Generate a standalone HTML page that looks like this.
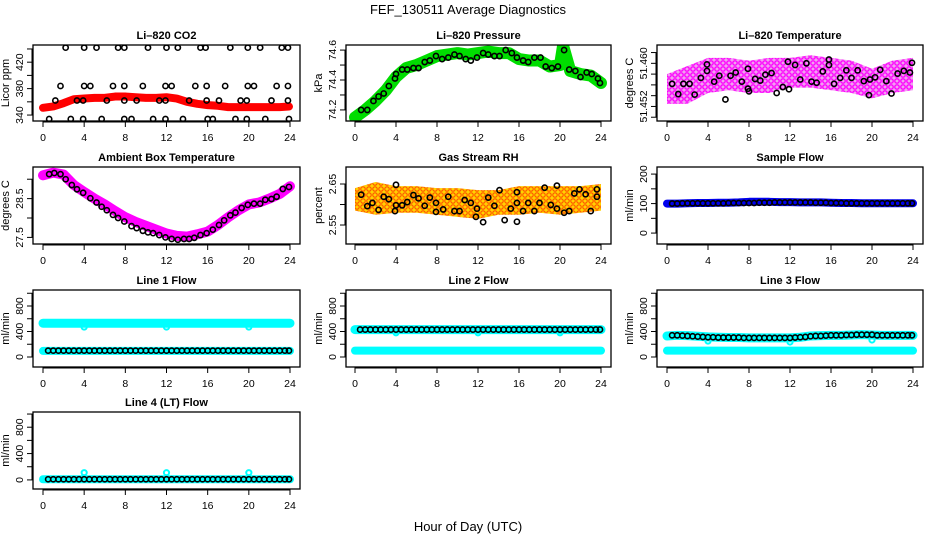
<!DOCTYPE html>
<html><head><meta charset="utf-8"><style>
body{margin:0;background:#fff}
svg{display:block;font-family:"Liberation Sans",sans-serif}
</style></head><body>
<svg id="c" width="936" height="540" viewBox="0 0 936 540" xmlns="http://www.w3.org/2000/svg">
<defs>
<pattern id="pm" width="6" height="6" patternUnits="userSpaceOnUse"><rect width="6" height="6" fill="#f0a0f0"/><circle cx="3" cy="3" r="2.2" fill="none" stroke="#ff00ff" stroke-width="1.4"/></pattern>
<pattern id="po" width="6" height="6" patternUnits="userSpaceOnUse"><rect width="6" height="6" fill="#ffd200"/><circle cx="3" cy="3" r="2.2" fill="none" stroke="#ff5000" stroke-width="1.1"/></pattern>
</defs>
<text x="468" y="14" text-anchor="middle" font-size="13">FEF_130511  Average Diagnostics</text>
<text x="468" y="531" text-anchor="middle" font-size="13">Hour of Day (UTC)</text>
</svg>
<script>
// ---- data ----
const T48=[0.5,1,1.5,2,2.5,3,3.5,4,4.5,5,5.5,6,6.5,7,7.5,8,8.5,9,9.5,10,10.5,11,11.5,12,12.5,13,13.5,14,14.5,15,15.5,16,16.5,17,17.5,18,18.5,19,19.5,20,20.5,21,21.5,22,22.5,23,23.5,23.9];
const H25=[0,1,2,3,4,5,6,7,8,9,10,11,12,13,14,15,16,17,18,19,20,21,22,23,24];
const H13=[0,2,4,6,8,10,12,14,16,18,20,22,24];
const xTicks=[0,4,8,12,16,20,24];

const co2T=[2.2,4.0,5.2,7.3,7.9,10.2,12.0,13.1,15.3,15.8,18.2,19.9,21.1,23.2,23.8, 1.7,4.0,4.6,6.8,7.9,9.7,11.9,12.5,14.8,15.9,17.7,19.9,20.5,22.7,23.8, 1.2,3.3,3.9,6.2,7.9,9.1,11.3,11.9,14.2,15.9,17.1,19.2,19.8,22.2,23.8, 0.6,2.7,3.9,5.7,7.9,8.6,10.7,11.9,13.6,16.0,16.5,18.7,19.8,21.6,23.9];
const co2V=[442,442,442,442,442,442,442,442,442,442,442,442,442,442,442, 384,384,384,384,384,384,384,384,384,384,384,384,384,384,384, 362,362,362,362,362,362,362,362,362,362,362,362,362,362,362, 334,334,334,334,334,334,334,334,334,334,334,334,334,334,334];
const co2Red=[351,353,358,364,365,366,366,368,368,367,366,366,367,365,360,357,355,354,352,352,352,352,352,352,353];

const presT=[0,1,2,3,4,5,6,7,8,9,10,11,12,13,14,15,16,17,18,19,20,20.3,21,22,23,24];
const presGreen=[74.15,74.2,74.26,74.33,74.42,74.48,74.5,74.53,74.56,74.57,74.58,74.57,74.58,74.59,74.58,74.58,74.54,74.53,74.53,74.49,74.5,74.63,74.46,74.44,74.43,74.38];
const presBlackT=[0.6,1.2,1.8,2.3,2.8,3.3,3.9,4.0,4.6,5.1,5.7,6.2,6.8,7.3,7.9,8.5,9.1,9.7,10.2,10.8,11.3,11.9,12.5,13.0,13.6,14.1,14.7,15.3,15.8,16.4,16.9,17.5,18.1,18.6,19.2,19.8,20.4,20.9,21.5,22.0,22.6,23.1,23.7,23.9];
const presBlackV=[74.2,74.2,74.26,74.29,74.31,74.36,74.41,74.44,74.47,74.47,74.48,74.48,74.52,74.53,74.56,74.54,74.55,74.57,74.56,74.54,74.53,74.55,74.58,74.57,74.56,74.56,74.6,74.58,74.55,74.53,74.52,74.55,74.55,74.49,74.48,74.49,74.6,74.47,74.46,74.42,74.45,74.44,74.41,74.38];

const ltLo=[51.4525,51.4525,51.4545,51.455,51.4545,51.4545,51.4555,51.4555,51.455,51.4545,51.4535,51.4545,51.455];
const ltHi=[51.458,51.4595,51.461,51.461,51.4605,51.461,51.461,51.4615,51.461,51.4605,51.459,51.4605,51.461];
const ltBlackT=[0.5,1.1,1.6,2.2,2.7,3.3,3.9,3.9,4.6,5.1,5.7,6.2,6.7,7.3,7.9,7.9,8.0,8.6,9.1,9.6,10.2,10.7,11.3,11.8,11.9,12.5,13.0,13.6,14.1,14.6,15.2,15.8,15.8,16.3,16.9,17.5,18.0,18.6,19.2,19.7,19.8,20.3,20.8,21.4,21.9,22.5,23.1,23.7,23.9];
const ltBlackV=[51.4562,51.4543,51.4562,51.4562,51.4542,51.4573,51.4598,51.4586,51.4566,51.4577,51.4533,51.4577,51.4583,51.4566,51.4590,51.4553,51.4548,51.4571,51.4568,51.4579,51.4582,51.4545,51.4556,51.4603,51.4552,51.4597,51.4570,51.4600,51.4566,51.4564,51.4585,51.4607,51.4597,51.4562,51.4573,51.4587,51.4573,51.4587,51.4567,51.4541,51.4570,51.4574,51.4588,51.4567,51.4544,51.4581,51.4586,51.4583,51.4601];
const ltLabels=['51.452','51.460'];

const ambT=[0.6,1.1,1.7,2.2,2.8,3.3,3.9,4.6,5.2,5.7,6.2,6.8,7.3,7.9,8.6,9.1,9.7,10.2,10.7,11.3,11.9,12.5,13.1,13.7,14.2,14.7,15.3,15.9,16.5,17.1,17.6,18.2,18.7,19.3,19.9,20.5,21.1,21.6,22.2,22.7,23.3,23.9];
const ambV=[29.13,29.16,29.13,29.0,28.85,28.74,28.65,28.51,28.4,28.29,28.2,28.08,28.0,27.91,27.79,27.74,27.67,27.63,27.61,27.56,27.5,27.46,27.44,27.46,27.46,27.49,27.56,27.61,27.7,27.82,27.94,28.07,28.14,28.26,28.34,28.37,28.37,28.47,28.49,28.55,28.75,28.8];
const ambMag=[29.1,29.17,29.12,28.85,28.67,28.5,28.35,28.18,28.02,27.9,27.8,27.7,27.6,27.54,27.52,27.58,27.65,27.82,28.02,28.2,28.35,28.4,28.5,28.62,28.82];

const rhLo=[2.585,2.575,2.58,2.58,2.575,2.57,2.565,2.575,2.575,2.58,2.575,2.58,2.585];
const rhHi=[2.64,2.655,2.645,2.645,2.64,2.64,2.635,2.635,2.645,2.645,2.645,2.645,2.65];
const rhT=[0.6,1.2,1.7,2.3,2.8,3.3,3.9,4.0,4.0,4.6,5.1,5.7,6.2,6.8,7.3,7.9,7.9,8.6,9.1,9.7,10.2,10.7,11.3,11.8,11.9,12.5,13.0,13.6,14.1,14.6,15.2,15.8,15.8,15.8,16.4,16.9,17.5,18.0,18.5,19.1,19.7,19.7,20.4,20.9,21.4,21.9,22.5,23.0,23.6,23.6];
const rhV=[2.624,2.596,2.604,2.587,2.619,2.613,2.584,2.648,2.598,2.598,2.606,2.623,2.615,2.597,2.617,2.604,2.582,2.588,2.619,2.584,2.584,2.611,2.604,2.570,2.59,2.557,2.617,2.597,2.635,2.562,2.59,2.63,2.558,2.604,2.584,2.604,2.584,2.604,2.641,2.599,2.646,2.59,2.58,2.584,2.627,2.637,2.625,2.584,2.637,2.619];

const sfBlue=[100,100,101,102,102,103,103,104,106,106,106,105,105,104,104,104,103,102,102,101,101,101,101,101,101];
const sfBlack=[100,100,101,101,101,101,101,101,101,101,101,102,102,102,102,102,102,103,103,103,104,104,104,104,104,104,104,104,103,103,103,102,102,102,101,101,101,101,101,101,101,101,101,101,101,101,101,101];

const l1CyanHi=[530,530,530,530,530,530,530,530,530,530,530,530,530,530,530,530,530,530,530,530,530,530,530,530,530];
const l1CyanLo=[95,95,95,95,95,95,95,95,95,95,95,95,95,95,95,95,95,95,95,95,95,95,95,95,95];
const l1Black=[100,100,100,100,100,100,100,100,100,100,100,100,100,100,100,100,100,100,100,100,100,100,100,100,100,100,100,100,100,100,100,100,100,100,100,100,100,100,100,100,100,100,100,100,100,100,100,100];
const dipT=[4,12,20];
const l1Dip=[470,470,470];

const l2CyanHi=[430,430,430,430,430,430,430,430,430,430,430,430,430,430,430,430,430,430,430,430,430,430,430,430,430];
const l2CyanLo=[100,100,100,100,100,100,100,100,100,100,100,100,100,100,100,100,100,100,100,100,100,100,100,100,100];
const l2Black=[430,430,430,430,430,430,430,430,430,430,430,430,430,430,430,430,430,430,430,430,430,430,430,430,430,430,430,430,430,430,430,430,430,430,430,430,430,430,430,430,430,430,430,430,430,430,430,430];
const l2Dip=[380,380,380];

const l3CyanHi=[330,340,335,325,315,310,305,305,300,300,300,300,300,310,330,335,340,340,345,350,345,340,340,340,340];
const l3CyanLo=[100,100,100,100,100,100,100,100,100,100,100,100,100,100,100,100,100,100,100,100,100,100,100,100,100];
const l3Black=[340,340,335,330,325,320,315,310,310,305,305,305,305,305,300,300,300,300,300,300,300,300,300,300,305,310,315,325,330,330,335,340,340,340,345,345,350,350,350,350,340,340,340,340,340,340,340,340];
const l3Dip=[250,235,267];

const l4CyanHi=[10,10,10,10,10,10,10,10,10,10,10,10,10,10,10,10,10,10,10,10,10,10,10,10,10];
const l4Black=[10,10,10,10,10,10,10,10,10,10,10,10,10,10,10,10,10,10,10,10,10,10,10,10,10,10,10,10,10,10,10,10,10,10,10,10,10,10,10,10,10,10,10,10,10,10,10,10];
const l4Dip=[110,110,110];

// ---- drawing ----
const NS="http://www.w3.org/2000/svg";
const svg=document.getElementById('c');
function mk(tag,at,parent){const e=document.createElementNS(NS,tag);for(const k in at)e.setAttribute(k,at[k]);(parent||svg).appendChild(e);return e;}
const cols=[{L:33,R:300,x0:43,x24:290},{L:346,R:611,x0:355,x24:601},{L:657,R:923,x0:667,x24:913}];
const rows=[{T:45,B:121},{T:167,B:244},{T:290,B:367},{T:412,B:489}];

function panel(ci,ri,name,title,ylab,ylim,yticks,ylabels){
  const c=cols[ci],r=rows[ri];
  const g=mk('g',{});
  
  
  const sx=t=>c.x0+(t/24)*(c.x24-c.x0);
  const sy=v=>r.B-(Number(v)-ylim[0])/(ylim[1]-ylim[0])*(r.B-r.T);
  const t=mk('text',{x:(c.L+c.R)/2,y:r.T-6,'text-anchor':'middle','font-size':11,'font-weight':'bold'},g);
  t.textContent=title;
  
  
  const xa=mk('g',{stroke:'#000','stroke-width':1},g);
  
  
  mk('line',{x1:sx(0),x2:sx(24),y1:r.B+1,y2:r.B+1},xa);
  xTicks.forEach(v=>{mk('line',{x1:sx(v),x2:sx(v),y1:r.B,y2:r.B+6},xa);
    const l=mk('text',{x:sx(v),y:r.B+20,'text-anchor':'middle','font-size':10.5,stroke:'none'},xa);l.textContent=v;});
  const ya=mk('g',{stroke:'#000','stroke-width':1},g);
  
  
  mk('line',{x1:c.L-1,x2:c.L-1,y1:sy(yticks[0]),y2:sy(yticks[yticks.length-1])},ya);
  yticks.forEach(v=>mk('line',{x1:c.L-6,x2:c.L,y1:sy(v),y2:sy(v)},ya));
  ylabels.forEach(v=>{const x=c.L-10,y=sy(v);
    const l=mk('text',{x:x,y:y,'text-anchor':'middle','font-size':10.5,stroke:'none',transform:`rotate(-90 ${x} ${y})`},ya);l.textContent=v;});
  const yl=mk('text',{x:c.L-24,y:(r.T+r.B)/2,'text-anchor':'middle','font-size':11,transform:`rotate(-90 ${c.L-24} ${(r.T+r.B)/2})`},g);
  yl.textContent=ylab;
  
  
  const cp='cp'+ci+ri;
  const cl=mk('clipPath',{id:cp},g);mk('rect',{x:c.L,y:r.T,width:c.R-c.L,height:r.B-r.T},cl);
  const plot=mk('g',{'clip-path':`url(#${cp})`},g);
  const box=mk('rect',{x:c.L,y:r.T,width:c.R-c.L,height:r.B-r.T,fill:'none',stroke:'#000','stroke-width':1.3},g);
  
  
  return {plot,sx,sy,name,frontBox:box,g};
}
function band(p,ts,vs,color,w,nm){
  const e=mk('polyline',{points:ts.map((t,i)=>p.sx(t)+','+p.sy(vs[i])).join(' '),fill:'none',stroke:color,'stroke-width':w,'stroke-linecap':'round','stroke-linejoin':'round'},p.plot);
  
  
}
function cloud(p,ts,lo,hi,fill,nm){
  const pts=ts.map((t,i)=>p.sx(t)+','+p.sy(hi[i])).concat(ts.slice().reverse().map((t,j)=>p.sx(t)+','+p.sy(lo[ts.length-1-j])));
  const e=mk('polygon',{points:pts.join(' '),fill:fill,stroke:'none'},p.plot);
  
  
}
function pts(p,ts,vs,color,nm,sw){
  const g=mk('g',{fill:'none',stroke:color,'stroke-width':sw||1.6},p.plot);
  
  
  ts.forEach((t,i)=>{const c=mk('circle',{cx:p.sx(t),cy:p.sy(vs[i]),r:2.6},g);
    
    });
}

let p;
p=panel(0,0,'co2-panel','Li–820 CO2','Licor ppm',[331,446],[340,360,380,400,420,440],[340,380,420]);
band(p,H25.slice(0,24).concat([23.9]),co2Red,'#ff0000',8,'co2-red-series');
pts(p,co2T,co2V,'#000','co2-black-series');

p=panel(1,0,'pressure-panel','Li–820 Pressure','kPa',[74.126,74.634],[74.2,74.3,74.4,74.5,74.6],[74.2,74.4,74.6]);
band(p,presT,presGreen,'#00dd00',12,'pressure-green-series');
pts(p,presBlackT,presBlackV,'#000','pressure-black-series');

p=panel(2,0,'li820-temperature-panel','Li–820 Temperature','degrees C',[51.4493,51.4634],[51.450,51.452,51.454,51.456,51.458,51.460,51.462],ltLabels);
cloud(p,H13,ltLo,ltHi,'url(#pm)','li820-temp-magenta-cloud');
pts(p,ltBlackT,ltBlackV,'#000','li820-temp-black-series');

p=panel(0,1,'ambient-temperature-panel','Ambient Box Temperature','degrees C',[27.33,29.315],[27.5,28.0,28.5,29.0],['27.5','28.5']);
band(p,H25,ambMag,'#ff00ff',10,'ambient-magenta-series');
pts(p,ambT,ambV,'#000','ambient-black-series');

p=panel(1,1,'gas-rh-panel','Gas Stream RH','percent',[2.5037,2.6915],[2.55,2.60,2.65],['2.55','2.65']);
cloud(p,H13,rhLo,rhHi,'url(#po)','rh-orange-cloud');
pts(p,rhT,rhV,'#000','rh-black-series');

p=panel(2,1,'sample-flow-panel','Sample Flow','ml/min',[-37,224],[0,50,100,150,200],[0,100,200]);
band(p,H25,sfBlue,'#0000ee',8,'sample-flow-blue-series');
pts(p,T48,sfBlack,'#000','sample-flow-black-series');

p=panel(0,2,'line1-flow-panel','Line 1 Flow','ml/min',[-157,1051],[0,200,400,600,800,1000],[0,400,800]);
band(p,H25,l1CyanHi,'#00ffff',9,'line1-cyan-high-series');
band(p,H25,l1CyanLo,'#00ffff',8,'line1-cyan-low-series');
pts(p,dipT,l1Dip,'#00ffff','line1-cyan-dips',2);
pts(p,T48,l1Black,'#000','line1-black-series');

p=panel(1,2,'line2-flow-panel','Line 2 Flow','ml/min',[-157,1051],[0,200,400,600,800,1000],[0,400,800]);
band(p,H25,l2CyanHi,'#00ffff',9,'line2-cyan-high-series');
band(p,H25,l2CyanLo,'#00ffff',8,'line2-cyan-low-series');
pts(p,dipT,l2Dip,'#00ffff','line2-cyan-dips',2);
pts(p,T48,l2Black,'#000','line2-black-series');

p=panel(2,2,'line3-flow-panel','Line 3 Flow','ml/min',[-157,1051],[0,200,400,600,800,1000],[0,400,800]);
band(p,H25,l3CyanHi,'#00ffff',9,'line3-cyan-high-series');
band(p,H25,l3CyanLo,'#00ffff',8,'line3-cyan-low-series');
pts(p,dipT,l3Dip,'#00ffff','line3-cyan-dips',2);
pts(p,T48,l3Black,'#000','line3-black-series');

p=panel(0,3,'line4-flow-panel','Line 4 (LT) Flow','ml/min',[-138,1031],[0,200,400,600,800,1000],[0,400,800]);
band(p,H25,l4CyanHi,'#00ffff',8,'line4-cyan-series');
pts(p,dipT,l4Dip,'#00ffff','line4-cyan-dips',2);
pts(p,T48,l4Black,'#000','line4-black-series');
</script>
</body></html>
